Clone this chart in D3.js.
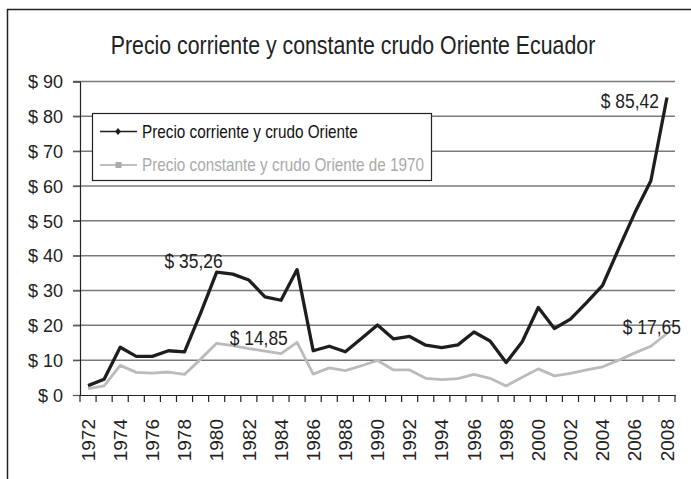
<!DOCTYPE html>
<html><head><meta charset="utf-8">
<script src="https://cdn.jsdelivr.net/npm/d3@7"></script>
<style>
body{margin:0;background:#fff;}
svg{display:block;}
text{font-family:"Liberation Sans",Arial,sans-serif;}
</style></head>
<body><svg id="c" width="691" height="479"></svg>
<script>
const years = d3.range(1972, 2009);
const precioCorriente = [2.7,4.5,13.7,11.1,11.1,12.7,12.4,23.5,35.26,34.7,33.0,28.2,27.2,36.0,12.7,14.0,12.4,16.2,20.1,16.1,16.8,14.3,13.6,14.4,18.1,15.5,9.3,15.3,25.1,19.1,21.8,26.5,31.5,42.0,52.3,61.5,85.42];
const precioConstante = [1.8,2.6,8.5,6.5,6.3,6.6,5.9,10.3,14.85,14.2,13.3,12.6,11.9,15.1,6.0,7.8,7.0,8.4,9.9,7.2,7.2,4.8,4.4,4.7,5.9,4.8,2.6,5.1,7.5,5.5,6.2,7.2,8.1,10.0,12.1,14.0,17.65];
const yTicks = [0,10,20,30,40,50,60,70,80,90];
const xTickYears = years.filter(y => y % 2 === 0);
const seriesNames = ["Precio corriente y crudo Oriente", "Precio constante y crudo Oriente de 1970"];
const title = "Precio corriente y constante crudo Oriente Ecuador";
const annotations = [
  {series:0, year:1980, text:"$ 35,26"},
  {series:1, year:1980, text:"$ 14,85"},
  {series:0, year:2008, text:"$ 85,42"},
  {series:1, year:2008, text:"$ 17,65"}
];

const svg = d3.select("#c");
const L=80, R=675, T=81.5, B=395;
const x = d3.scaleBand().domain(years).range([L,R]);
const y = d3.scaleLinear().domain([0,90]).range([B,T]);
const cx = yr => x(yr) + x.bandwidth()/2;

function narrowText(sel, px, py, s){
  sel.attr("x",0).attr("y",0).attr("transform",`translate(${px},${py}) scale(${s},1)`);
  return sel;
}

// frame
svg.append("path").attr("d","M7.5,479 V9.5 H691").attr("fill","none").attr("stroke","#222").attr("stroke-width",1.5);

// title
narrowText(svg.append("text").attr("text-anchor","middle").attr("font-size",26).attr("fill","#222").text(title), 353, 54, 0.82);

// gridlines
svg.append("g").selectAll("line").data(yTicks.filter(d=>d>0)).join("line")
  .attr("x1",L-7).attr("x2",R).attr("y1",d=>y(d)).attr("y2",d=>y(d))
  .attr("stroke","#7a7a7a").attr("stroke-width",1.5);

// y axis
const ya = svg.append("g").attr("transform",`translate(${L},0)`)
  .call(d3.axisLeft(y).tickValues(yTicks).tickSize(7).tickFormat(d=>"$ "+d));
ya.select(".domain").attr("stroke","#222").attr("stroke-width",1.2);
ya.selectAll(".tick line").attr("stroke","#555").attr("stroke-width",1.2);
ya.selectAll("text").attr("font-family","Liberation Sans, Arial, sans-serif").attr("font-size",18).attr("fill","#222").attr("x",-17).attr("dy","0.35em");

// x axis
const xa = svg.append("g").attr("transform",`translate(0,${B})`)
  .call(d3.axisBottom(x).tickValues(xTickYears).tickSize(0).tickFormat(d=>d));
xa.select(".domain").attr("stroke","#222").attr("stroke-width",1.2);
xa.selectAll("text").attr("font-family","Liberation Sans, Arial, sans-serif").attr("font-size",19).attr("fill","#222")
  .attr("transform","rotate(-90)").attr("text-anchor","end").attr("x",-24).attr("y",0).attr("dy","0.35em");
const bounds = years.map(yr=>x(yr)).concat([R]);
svg.append("g").selectAll("line").data(bounds).join("line")
  .attr("x1",d=>d).attr("x2",d=>d).attr("y1",B).attr("y2",B+7)
  .attr("stroke","#222").attr("stroke-width",1.2);

// lines
const line = vals => d3.line().x((d,i)=>cx(years[i])).y(d=>y(d))(vals);
svg.append("path").attr("d",line(precioConstante)).attr("fill","none").attr("stroke","#bbbbbb").attr("stroke-width",2.8).attr("stroke-linejoin","round");
svg.append("path").attr("d",line(precioCorriente)).attr("fill","none").attr("stroke","#1e1e1e").attr("stroke-width",3.3).attr("stroke-linejoin","round");

// annotations
const annOff = [
  {dx:6, dy:-4, anchor:"end"},
  {dx:13, dy:2, anchor:"start"},
  {dx:-8, dy:11, anchor:"end"},
  {dx:14, dy:0, anchor:"end"}
];
const vals = [precioCorriente, precioConstante];
annotations.forEach((d,i)=>{
  const t = svg.append("text").attr("font-size",21).attr("fill","#222")
    .attr("text-anchor",annOff[i].anchor).text(d.text);
  narrowText(t, cx(d.year)+annOff[i].dx, y(vals[d.series][years.indexOf(d.year)])+annOff[i].dy, 0.83);
});

// legend
const lg = svg.append("g");
lg.append("rect").attr("x",92.5).attr("y",113.5).attr("width",339).attr("height",67)
  .attr("fill","#fff").attr("stroke","#222").attr("stroke-width",1.2);
const legColors = ["#1e1e1e","#aaaaaa"];
const legText = ["#111","#aaaaaa"];
seriesNames.forEach((n,i)=>{
  const ly = 131.5 + i*33.5;
  lg.append("line").attr("x1",100).attr("x2",137).attr("y1",ly).attr("y2",ly).attr("stroke",legColors[i]).attr("stroke-width",1.3);
  if(i===0){
    lg.append("path").attr("d",`M118,${ly-3.5} L121,${ly} L118,${ly+3.5} L115,${ly} Z`).attr("fill",legColors[i]);
  } else {
    lg.append("rect").attr("x",115.5).attr("y",ly-3).attr("width",6).attr("height",6).attr("fill",legColors[i]);
  }
  const t = lg.append("text").attr("dy","0.36em").attr("font-size",18).attr("fill",legText[i]).text(n);
  narrowText(t, 142, ly, 0.85);
});
</script></body></html>
